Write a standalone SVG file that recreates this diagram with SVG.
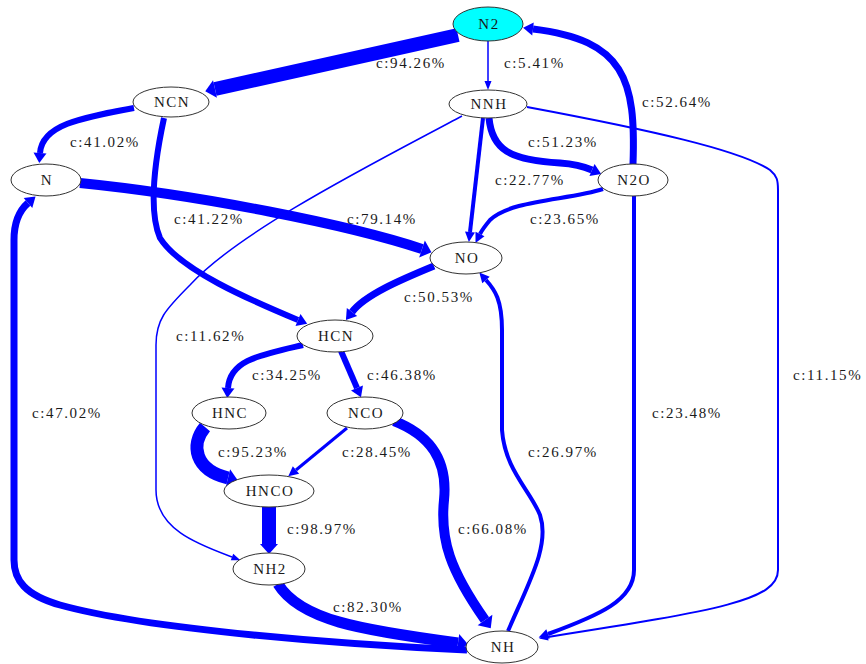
<svg xmlns="http://www.w3.org/2000/svg" width="866" height="664" viewBox="0 0 866 664">
<style>
.e{fill:none;stroke:#0000ff;stroke-linecap:butt;stroke-linejoin:round}
.ah{fill:#0000ff;stroke:none}
.n ellipse{fill:#ffffff;stroke:#333333;stroke-width:1}
.n text{font-family:"Liberation Serif","Times New Roman",serif;font-size:15px;fill:#1a1a1a;text-anchor:middle;letter-spacing:1.5px}
.l{font-family:"Liberation Serif","Times New Roman",serif;font-size:15px;fill:#1a1a1a;letter-spacing:1.6px}
</style>
<defs>
<marker id="a1" markerUnits="userSpaceOnUse" orient="auto" overflow="visible" refX="0" refY="0" markerWidth="1" markerHeight="1"><path class="ah" d="M0,-3.5 L9,0 L0,3.5 z"/></marker>
<marker id="a4" markerUnits="userSpaceOnUse" orient="auto" overflow="visible" refX="0" refY="0" markerWidth="1" markerHeight="1"><path class="ah" d="M0,-5 L10,0 L0,5 z"/></marker>
<marker id="a7" markerUnits="userSpaceOnUse" orient="auto" overflow="visible" refX="0" refY="0" markerWidth="1" markerHeight="1"><path class="ah" d="M0,-6.5 L10,0 L0,6.5 z"/></marker>
<marker id="a12" markerUnits="userSpaceOnUse" orient="auto" overflow="visible" refX="0" refY="0" markerWidth="1" markerHeight="1"><path class="ah" d="M0,-9 L10,0 L0,9 z"/></marker>
</defs>
<rect width="866" height="664" fill="#ffffff"/>
<g id="connectors">
<path class="e" style="stroke-width:14" marker-end="url(#a12)" d="M458,35 L215,89"/>
<path class="e" style="stroke-width:1.5" marker-end="url(#a1)" d="M488,41 L488,81"/>
<path class="e" style="stroke-width:7" marker-end="url(#a7)" d="M633,164 C636,80 625,40 533,29"/>
<path class="e" style="stroke-width:6" marker-end="url(#a7)" d="M134,108 C80,118 42,125 40,153"/>
<path class="e" style="stroke-width:6" marker-end="url(#a7)" d="M164,118 C155,160 148,210 160,238 C180,270 250,300 298,320"/>
<path class="e" style="stroke-width:10" marker-end="url(#a12)" d="M80,183 C200,195 350,225 422,249"/>
<path class="e" style="stroke-width:7" marker-end="url(#a7)" d="M489,118 C492,150 510,160 560,163 C575,164 585,167 592,170"/>
<path class="e" style="stroke-width:4" marker-end="url(#a4)" d="M483,118 L470,232"/>
<path class="e" style="stroke-width:4" marker-end="url(#a4)" d="M603,189 C570,200 510,200 490,220 C485,226 482,230 480,234"/>
<path class="e" style="stroke-width:1.5" marker-end="url(#a1)" d="M462,116 C380,160 240,230 190,285 C165,310 156,320 156,345 L156,490 C156,530 200,545 232,557"/>
<path class="e" style="stroke-width:2" marker-end="url(#a1)" d="M527,107 C650,130 740,150 770,170 C777,176 778,180 778,190 L778,570 C778,600 720,610 548,637"/>
<path class="e" style="stroke-width:4" marker-end="url(#a4)" d="M634,196 L634,570 C634,600 600,615 548,634"/>
<path class="e" style="stroke-width:7" marker-end="url(#a7)" d="M434,266 C400,280 365,295 352,312"/>
<path class="e" style="stroke-width:4" marker-end="url(#a4)" d="M508,631 C530,580 550,545 540,515 C530,490 505,470 502,430 L502,330 C502,300 495,290 486,280"/>
<path class="e" style="stroke-width:6" marker-end="url(#a7)" d="M303,345 C260,355 230,360 228,388"/>
<path class="e" style="stroke-width:6" marker-end="url(#a7)" d="M341,351 L357,388"/>
<path class="e" style="stroke-width:13" marker-end="url(#a12)" d="M205,427 C190,445 195,470 228,478"/>
<path class="e" style="stroke-width:3" marker-end="url(#a4)" d="M347,428 L296,470"/>
<path class="e" style="stroke-width:10" marker-end="url(#a12)" d="M394,421 C430,435 448,460 444,500 C440,540 450,570 485,620"/>
<path class="e" style="stroke-width:14" marker-end="url(#a12)" d="M269,507 L269,544"/>
<path class="e" style="stroke-width:11" marker-end="url(#a12)" d="M278,584 C300,620 360,630 458,643"/>
<path class="e" style="stroke-width:7" marker-end="url(#a7)" d="M467,650 C350,645 150,630 60,605 C25,595 14,580 14,560 L14,240 C14,220 20,210 28,203"/>
</g>
<g id="labels">
<text class="l" x="376" y="68">c:94.26%</text>
<text class="l" x="504" y="68">c:5.41%</text>
<text class="l" x="642" y="107">c:52.64%</text>
<text class="l" x="70" y="147">c:41.02%</text>
<text class="l" x="528" y="147">c:51.23%</text>
<text class="l" x="495" y="185">c:22.77%</text>
<text class="l" x="174" y="224">c:41.22%</text>
<text class="l" x="347" y="224">c:79.14%</text>
<text class="l" x="530" y="224">c:23.65%</text>
<text class="l" x="404" y="302">c:50.53%</text>
<text class="l" x="176" y="341">c:11.62%</text>
<text class="l" x="252" y="380">c:34.25%</text>
<text class="l" x="367" y="380">c:46.38%</text>
<text class="l" x="793" y="380">c:11.15%</text>
<text class="l" x="32" y="418">c:47.02%</text>
<text class="l" x="652" y="418">c:23.48%</text>
<text class="l" x="218" y="457">c:95.23%</text>
<text class="l" x="342" y="457">c:28.45%</text>
<text class="l" x="528" y="457">c:26.97%</text>
<text class="l" x="287" y="534">c:98.97%</text>
<text class="l" x="458" y="534">c:66.08%</text>
<text class="l" x="333" y="612">c:82.30%</text>
</g>
<g id="N2" class="n"><ellipse cx="488" cy="24" rx="35" ry="17" style="fill:#00ffff"/><text x="489" y="29">N2</text></g>
<g id="NCN" class="n"><ellipse cx="171" cy="102" rx="38" ry="15"/><text x="172" y="107">NCN</text></g>
<g id="NNH" class="n"><ellipse cx="488" cy="104" rx="39" ry="14"/><text x="489" y="109">NNH</text></g>
<g id="N" class="n"><ellipse cx="46" cy="180" rx="35" ry="16"/><text x="47" y="185">N</text></g>
<g id="N2O" class="n"><ellipse cx="633" cy="180" rx="35" ry="16"/><text x="634" y="185">N2O</text></g>
<g id="NO" class="n"><ellipse cx="466" cy="258" rx="36" ry="16"/><text x="467" y="263">NO</text></g>
<g id="HCN" class="n"><ellipse cx="335" cy="336" rx="38" ry="16"/><text x="336" y="341">HCN</text></g>
<g id="HNC" class="n"><ellipse cx="229" cy="413" rx="37" ry="16"/><text x="230" y="418">HNC</text></g>
<g id="NCO" class="n"><ellipse cx="365" cy="413" rx="38" ry="16"/><text x="366" y="418">NCO</text></g>
<g id="HNCO" class="n"><ellipse cx="269" cy="491" rx="45" ry="16"/><text x="270" y="496">HNCO</text></g>
<g id="NH2" class="n"><ellipse cx="269" cy="569" rx="36" ry="16"/><text x="270" y="574">NH2</text></g>
<g id="NH" class="n"><ellipse cx="502" cy="647" rx="36" ry="16"/><text x="503" y="652">NH</text></g>
</svg>
